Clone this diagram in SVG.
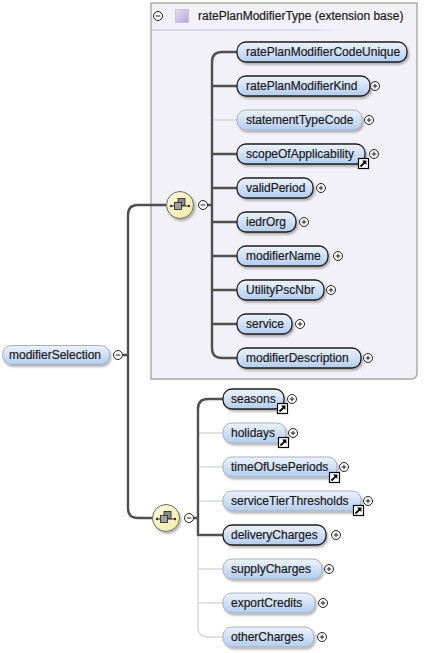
<svg xmlns="http://www.w3.org/2000/svg" width="437" height="653" viewBox="0 0 437 653">
  <defs>
    <linearGradient id="elemFill" x1="0" y1="0" x2="0" y2="1">
      <stop offset="0" stop-color="#edf3fc"/>
      <stop offset="1" stop-color="#b3ccee"/>
    </linearGradient>
    <linearGradient id="seqFill" x1="0" y1="0" x2="1" y2="1">
      <stop offset="0" stop-color="#fffbe0"/>
      <stop offset="1" stop-color="#f3e9a6"/>
    </linearGradient>
    <linearGradient id="typeIcon" x1="0" y1="0" x2="1" y2="1">
      <stop offset="0" stop-color="#e6def4"/>
      <stop offset="1" stop-color="#b4a6d8"/>
    </linearGradient>
    <linearGradient id="sepLine" x1="0" y1="0" x2="1" y2="0">
      <stop offset="0" stop-color="#d8d6de"/>
      <stop offset="0.8" stop-color="#dedce4"/>
      <stop offset="1" stop-color="#f3f1f8" stop-opacity="0"/>
    </linearGradient>
    <filter id="shadow" x="-10%" y="-20%" width="130%" height="170%">
      <feDropShadow dx="1.5" dy="2" stdDeviation="1" flood-color="#000" flood-opacity="0.3"/>
    </filter>
    <!-- expand / collapse toggles -->
    <g id="plus">
      <circle r="4.5" fill="#fff" stroke="#222" stroke-width="1"/>
      <path d="M-2.3 0H2.3M0 -2.3V2.3" stroke="#222" stroke-width="1"/>
    </g>
    <g id="minus">
      <circle r="4.5" fill="#fff" stroke="#222" stroke-width="1"/>
      <path d="M-2.3 0H2.3" stroke="#222" stroke-width="1"/>
    </g>
    <!-- reference (global type) marker -->
    <g id="link">
      <rect x="0.5" y="0.5" width="10" height="10" fill="#fff" stroke="#000" stroke-width="1.2"/>
      <path d="M2.5 8.5L7.2 3.8" stroke="#000" stroke-width="1.8"/>
      <path d="M4 2.6H8.4V7z" fill="#000"/>
    </g>
    <!-- sequence compositor -->
    <g id="seq">
      <circle r="13.5" fill="url(#seqFill)" stroke="#6b6b5a" stroke-width="1" filter="url(#shadow)"/>
      <path d="M-9 1H9" stroke="#333" stroke-width="1"/>
      <circle cx="-9" cy="1" r="1.2" fill="#333"/>
      <circle cx="9" cy="1" r="1.2" fill="#333"/>
      <rect x="-2" y="-6.5" width="7" height="7" fill="#8a8a8a" stroke="#333" stroke-width="0.9"/>
      <rect x="-5.5" y="-2.5" width="7" height="7" fill="#a0a0a0" stroke="#333" stroke-width="0.9"/>
    </g>
  </defs>
  <style>
    text { font-family: "Liberation Sans", Arial, sans-serif; font-size: 12px; fill: #1a1a1a; stroke: #1a1a1a; stroke-width: 0.2; }
    .req { fill: url(#elemFill); stroke: #1c1c1c; stroke-width: 1.3; filter: url(#shadow); }
    .opt { fill: url(#elemFill); stroke: #a6b0c0; stroke-width: 1; filter: url(#shadow); }
    .root { fill: url(#elemFill); stroke: #a6b0c0; stroke-width: 1; filter: url(#shadow); }
    .strong { fill: none; stroke: #505050; stroke-width: 2.4; }
    .weak { fill: none; stroke: #c4c4c4; stroke-width: 1; }
  </style>

  <rect width="437" height="653" fill="#fff"/>

  <!-- extension base frame -->
  <g id="extensionBase">
    <path d="M151 3H417V373Q417 379 411 379H151Z" fill="#f3f1f8" stroke="#aaaaaa" stroke-width="1.5"/>
    <use href="#minus" x="158" y="16"/>
    <rect x="175.5" y="9.5" width="13" height="13" fill="url(#typeIcon)" stroke="#c8c0dc" stroke-width="1"/>
    <text x="198" y="20">ratePlanModifierType (extension base)</text>
    <rect x="152" y="29" width="205" height="2" fill="url(#sepLine)"/>
  </g>

  <!-- connectors -->
  <g id="connectors">
    <!-- root to compositors -->
    <path class="strong" d="M123 355H128M166 205H138Q128 205 128 215V508Q128 518 138 518H153"/>
    <!-- upper sequence -->
    <path class="strong" d="M207.5 205H212M237 52H222Q212 52 212 62V348Q212 358 222 358H237"/>
    <path class="strong" d="M212 86H237M212 154H237M212 188H237M212 222H237M212 256H237M212 290H237M212 324H237"/>
    <path class="weak" d="M213 120H237"/>
    <!-- lower sequence -->
    <path class="strong" d="M193.5 518H198M223 399H208Q198 399 198 409V535H223"/>
    <path class="weak" d="M198 536V627Q198 637 208 637H223M199 433H223M199 467H223M199 501H223M199 569H223M199 603H223"/>
  </g>

  <!-- root element -->
  <g id="modifierSelection">
    <rect class="root" x="2.5" y="345.5" width="107" height="19" rx="9"/>
    <text x="9" y="359">modifierSelection</text>
    <use href="#minus" x="118" y="355"/>
  </g>

  <!-- compositors -->
  <g id="sequenceExtension">
    <use href="#seq" x="180" y="205"/>
    <use href="#minus" x="203" y="205"/>
  </g>
  <g id="sequenceCharges">
    <use href="#seq" x="166" y="518"/>
    <use href="#minus" x="189" y="518"/>
  </g>

  <!-- elements of ratePlanModifierType -->
  <g id="ratePlanModifierCodeUnique">
    <rect class="req" x="237" y="42" width="170" height="20" rx="9"/>
    <text x="246" y="56">ratePlanModifierCodeUnique</text>
  </g>
  <g id="ratePlanModifierKind">
    <rect class="req" x="237" y="76" width="133" height="20" rx="9"/>
    <text x="246" y="90">ratePlanModifierKind</text>
    <use href="#plus" x="375" y="86"/>
  </g>
  <g id="statementTypeCode">
    <rect class="opt" x="237" y="110" width="125" height="20" rx="9"/>
    <text x="246" y="124">statementTypeCode</text>
    <use href="#plus" x="369" y="120"/>
  </g>
  <g id="scopeOfApplicability">
    <rect class="req" x="237" y="144" width="128" height="20" rx="9"/>
    <text x="246" y="158">scopeOfApplicability</text>
    <use href="#plus" x="374" y="154"/>
    <use href="#link" x="358" y="158"/>
  </g>
  <g id="validPeriod">
    <rect class="req" x="237" y="178" width="76" height="20" rx="9"/>
    <text x="246" y="192">validPeriod</text>
    <use href="#plus" x="321" y="188"/>
  </g>
  <g id="iedrOrg">
    <rect class="req" x="237" y="212" width="59" height="20" rx="9"/>
    <text x="246" y="226">iedrOrg</text>
    <use href="#plus" x="304" y="222"/>
  </g>
  <g id="modifierName">
    <rect class="req" x="237" y="246" width="91" height="20" rx="9"/>
    <text x="246" y="260">modifierName</text>
    <use href="#plus" x="338" y="256"/>
  </g>
  <g id="UtilityPscNbr">
    <rect class="req" x="237" y="280" width="87" height="20" rx="9"/>
    <text x="246" y="294">UtilityPscNbr</text>
    <use href="#plus" x="331" y="290"/>
  </g>
  <g id="service">
    <rect class="req" x="237" y="314" width="55" height="20" rx="9"/>
    <text x="246" y="328">service</text>
    <use href="#plus" x="300" y="324"/>
  </g>
  <g id="modifierDescription">
    <rect class="req" x="237" y="348" width="124" height="20" rx="9"/>
    <text x="246" y="362">modifierDescription</text>
    <use href="#plus" x="368" y="358"/>
  </g>

  <!-- charge elements -->
  <g id="seasons">
    <rect class="req" x="223" y="389" width="61" height="20" rx="9"/>
    <text x="231" y="403">seasons</text>
    <use href="#plus" x="292" y="399"/>
    <use href="#link" x="277" y="403"/>
  </g>
  <g id="holidays">
    <rect class="opt" x="223" y="423" width="63" height="20" rx="9"/>
    <text x="231" y="437">holidays</text>
    <use href="#plus" x="293" y="433"/>
    <use href="#link" x="278" y="437"/>
  </g>
  <g id="timeOfUsePeriods">
    <rect class="opt" x="223" y="457" width="114" height="20" rx="9"/>
    <text x="231" y="471">timeOfUsePeriods</text>
    <use href="#plus" x="344" y="467"/>
    <use href="#link" x="329" y="472"/>
  </g>
  <g id="serviceTierThresholds">
    <rect class="opt" x="223" y="491" width="138" height="20" rx="9"/>
    <text x="231" y="505">serviceTierThresholds</text>
    <use href="#plus" x="368" y="501"/>
    <use href="#link" x="353" y="505"/>
  </g>
  <g id="deliveryCharges">
    <rect class="req" x="223" y="525" width="103" height="20" rx="9"/>
    <text x="231" y="539">deliveryCharges</text>
    <use href="#plus" x="336" y="535"/>
  </g>
  <g id="supplyCharges">
    <rect class="opt" x="223" y="559" width="99" height="20" rx="9"/>
    <text x="231" y="573">supplyCharges</text>
    <use href="#plus" x="329" y="569"/>
  </g>
  <g id="exportCredits">
    <rect class="opt" x="223" y="593" width="92" height="20" rx="9"/>
    <text x="231" y="607">exportCredits</text>
    <use href="#plus" x="323" y="603"/>
  </g>
  <g id="otherCharges">
    <rect class="opt" x="223" y="627" width="91" height="20" rx="9"/>
    <text x="231" y="641">otherCharges</text>
    <use href="#plus" x="322" y="637"/>
  </g>
</svg>
